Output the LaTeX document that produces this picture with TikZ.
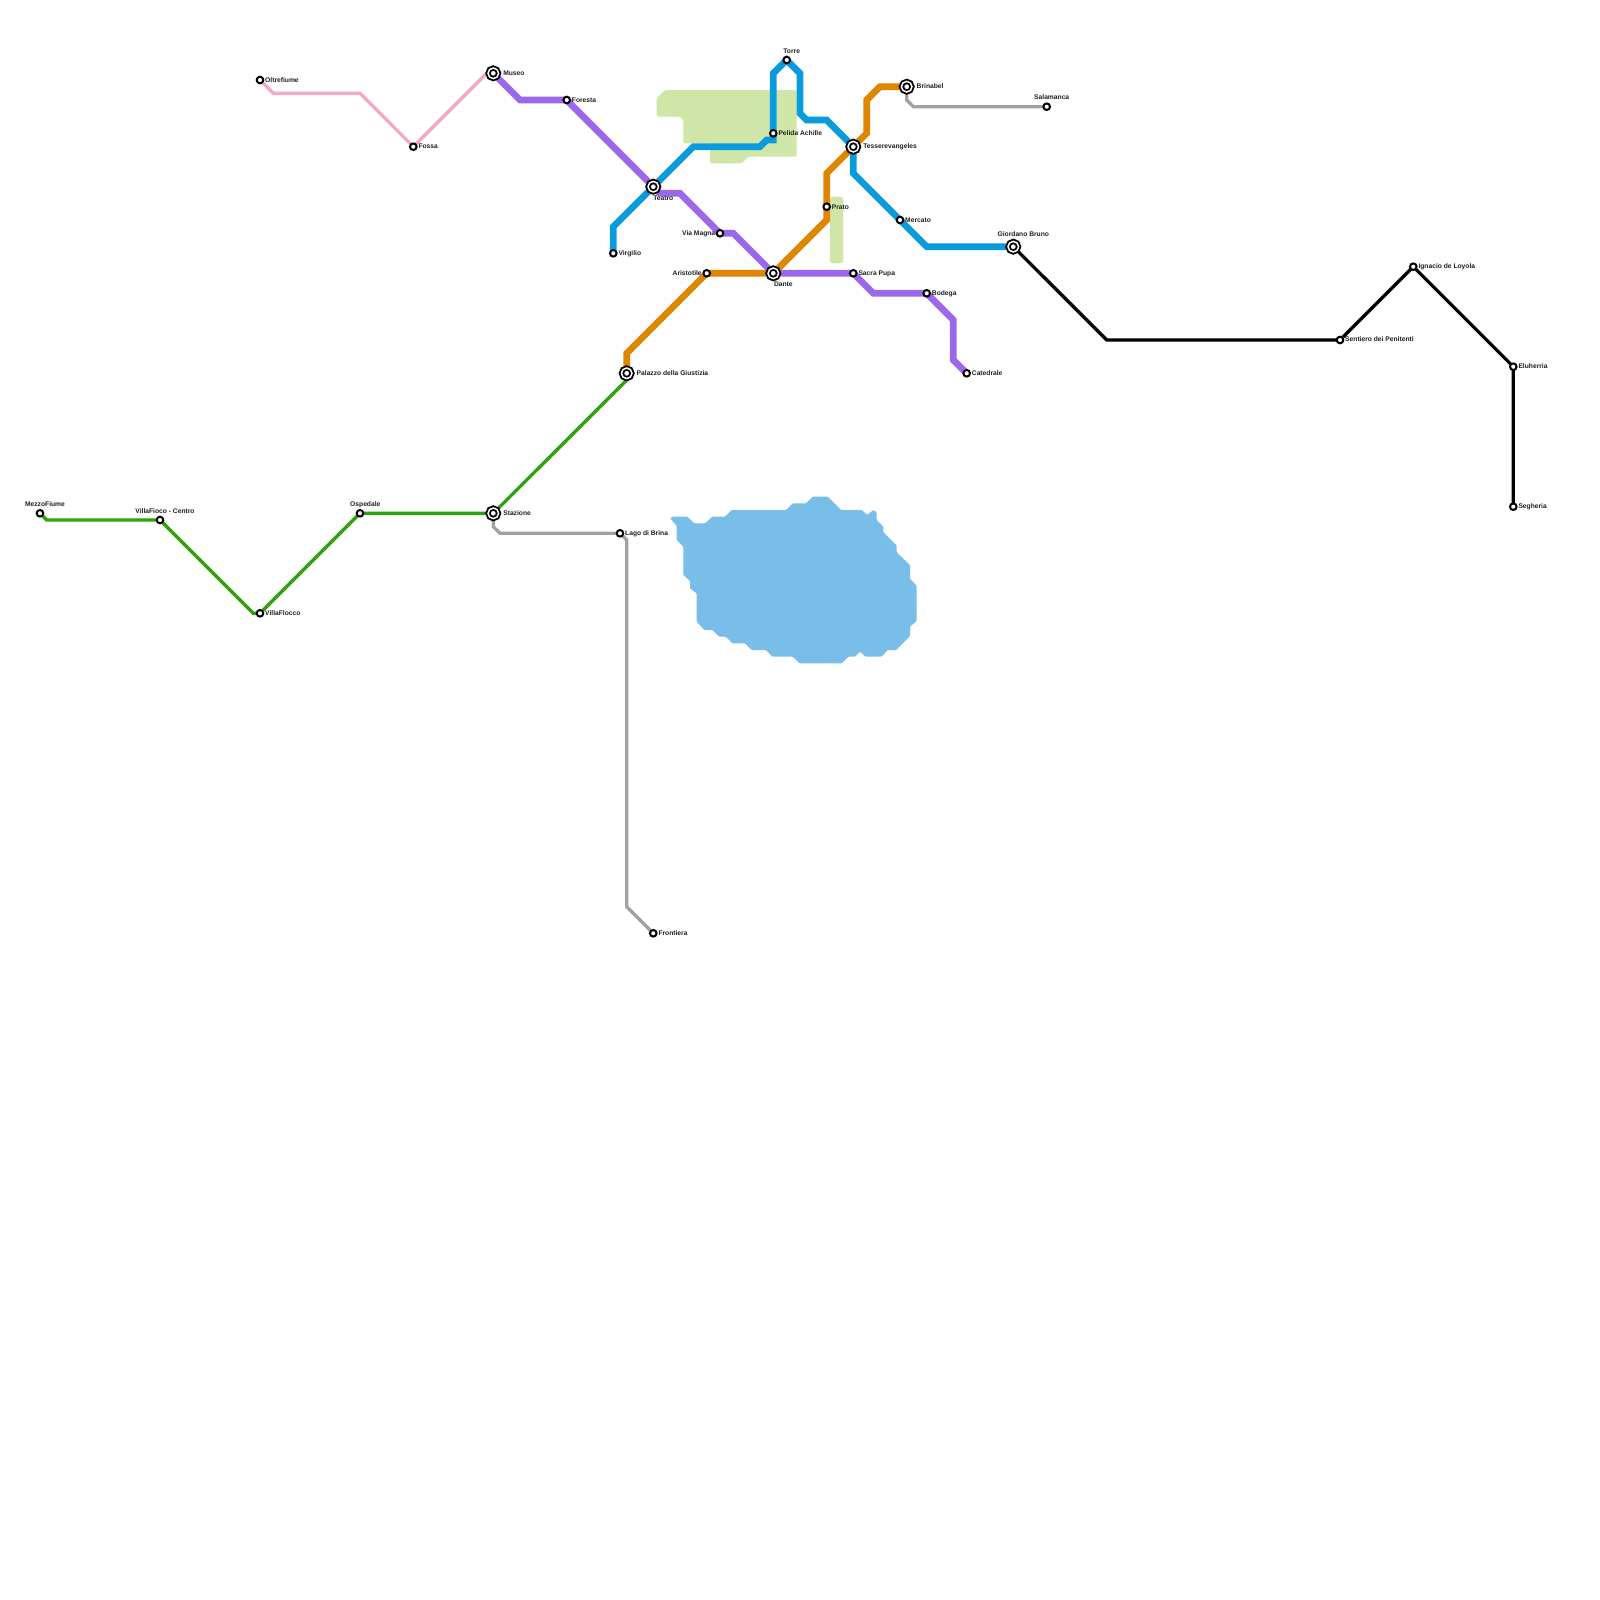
\documentclass[tikz,border=0pt]{standalone}
\usepackage{fontspec}
\setmainfont{Liberation Sans}
\usetikzlibrary{backgrounds}
\definecolor{areagreen}{HTML}{D0E6A8}
\definecolor{lake}{HTML}{79BDE9}
\definecolor{lblue}{HTML}{0A9BDC}
\definecolor{lorange}{HTML}{DF8600}
\definecolor{lpurple}{HTML}{9B68EC}
\definecolor{lgreen}{HTML}{2CA30A}
\definecolor{lpink}{HTML}{F7A6C8}
\definecolor{lgrey}{HTML}{A2A2A2}
\tikzset{
  stn/.style={circle,draw=black,fill=white,line width=2pt,inner sep=0pt,outer sep=0pt,minimum size=6.6pt},
  hub/.style={circle,draw=black,fill=white,line width=1.85pt,double=white,double distance=1.5pt,inner sep=0pt,outer sep=0pt,minimum size=10.6pt},
  lbl/.style={inner sep=0pt,outer sep=0pt,font=\fontsize{6.7pt}{8pt}\selectfont\bfseries,text=black!88},
  lr/.style={lbl,anchor=base west},
  ll/.style={lbl,anchor=base east},
  lc/.style={lbl,anchor=base},
  thick line/.style={line width=6.67pt,line join=miter,miter limit=10},
  thin line/.style={line width=3.33pt,line join=miter,miter limit=10},
  park/.style={fill=areagreen,rounded corners=1.5pt},
  water/.style={fill=lake,rounded corners=1pt}
}
\begin{document}
\begin{tikzpicture}[x=1pt,y=-1pt]
\useasboundingbox (0,0) rectangle (1600,1600);
% stations
\node[stn] (mezzo) at (40,513.3) {};
\node[stn] (centro) at (160,520) {};
\node[stn] (flocco) at (260,613.3) {};
\node[stn] (ospedale) at (360,513.3) {};
\node[hub] (stazione) at (493.3,513.3) {};
\node[hub] (palazzo) at (626.7,373.3) {};
\node[stn] (lago) at (620,533.3) {};
\node[stn] (frontiera) at (653.3,933.3) {};
\node[stn] (oltre) at (260,80) {};
\node[stn] (fossa) at (413.3,146.7) {};
\node[hub] (museo) at (493.3,73.3) {};
\node[stn] (foresta) at (566.7,100) {};
\node[hub] (teatro) at (653.3,186.7) {};
\node[stn] (magna) at (720,233.3) {};
\node[hub] (dante) at (773.3,273.3) {};
\node[stn] (sacra) at (853.3,273.3) {};
\node[stn] (bodega) at (926.7,293.3) {};
\node[stn] (catedrale) at (966.7,373.3) {};
\node[stn] (virgilio) at (613.3,253.3) {};
\node[stn] (pelida) at (773.3,133.3) {};
\node[stn] (torre) at (786.7,60) {};
\node[hub] (tesser) at (853.3,146.7) {};
\node[stn] (mercato) at (900,220) {};
\node[hub] (giordano) at (1013.3,246.7) {};
\node[stn] (aristotile) at (706.7,273.3) {};
\node[stn] (prato) at (826.7,206.7) {};
\node[hub] (brinabel) at (906.7,86.7) {};
\node[stn] (salamanca) at (1046.7,106.7) {};
\node[stn] (sentiero) at (1340,340) {};
\node[stn] (ignacio) at (1413.3,266.7) {};
\node[stn] (eluherria) at (1513.3,366.7) {};
\node[stn] (segheria) at (1513.3,506.7) {};
% labels
\node[lc] (tmezzo) at (45,506.6) {MezzoFiume};
\node[lc] (tcentro) at (165,513.3) {VillaFioco - Centro};
\node[lr] (tflocco) at (265.2,615.6) {VillaFlocco};
\node[lc] (tospedale) at (365.3,506.6) {Ospedale};
\node[lr] (tstazione) at (503.3,515.6) {Stazione};
\node[lr] (tpalazzo) at (636.7,375.6) {Palazzo della Giustizia};
\node[lr] (tlago) at (625.2,535.6) {Lago di Brina};
\node[lr] (tfrontiera) at (658.5,935.6) {Frontiera};
\node[lr] (toltre) at (265.2,82.3) {Oltrefiume};
\node[lr] (tfossa) at (418.5,149) {Fossa};
\node[lr] (tmuseo) at (503.3,75.6) {Museo};
\node[lr] (tforesta) at (571.9,102.3) {Foresta};
\node[lc] (tteatro) at (663.3,200) {Teatro};
\node[ll] (tmagna) at (715.2,235.6) {Via Magna};
\node[lc] (tdante) at (783.3,286.6) {Dante};
\node[lr] (tsacra) at (858.5,275.6) {Sacra Pupa};
\node[lr] (tbodega) at (931.9,295.6) {Bodega};
\node[lr] (tcatedrale) at (971.9,375.6) {Catedrale};
\node[lr] (tvirgilio) at (618.5,255.6) {Virgilio};
\node[lr] (tpelida) at (778.5,135.6) {Pelida Achille};
\node[lc] (ttorre) at (791.7,53.3) {Torre};
\node[lr] (ttesser) at (863.3,149) {Tesserevangeles};
\node[lr] (tmercato) at (905.2,222.3) {Mercato};
\node[lc] (tgiordano) at (1023.3,236.6) {Giordano Bruno};
\node[ll] (taristotile) at (701.7,275.6) {Aristotile};
\node[lr] (tprato) at (831.9,209) {Prato};
\node[lr] (tbrinabel) at (916.7,89) {Brinabel};
\node[lc] (tsalamanca) at (1051.7,100) {Salamanca};
\node[lr] (tsentiero) at (1345.2,341.9) {Sentiero dei Penitenti};
\node[lr] (tignacio) at (1418.5,268.3) {Ignacio de Loyola};
\node[lr] (teluherria) at (1518.5,368.3) {Eluherria};
\node[lr] (tsegheria) at (1518.5,508.3) {Segheria};
\begin{scope}[on background layer]
\fill[white] (0,0) rectangle (1600,1600);
% areas
\path[park] (665,90) -- (656.7,98.3) -- (656.7,116.7) -- (680,116.7) -- (683.3,120) -- (683.3,143.3) -- (710,143.3) -- (710,163.3) -- (741.7,163.3) -- (748.3,156.7) -- (796.7,156.7) -- (796.7,90) -- cycle;
\path[park,rounded corners=3pt] (830,196.7) rectangle (843.3,263.3);
\begin{scope}[shift={(660,480)},x=0.33333pt,y=-0.33333pt]
\path[water] (30,115) -- (38,110) -- (82,110) -- (103,130) -- (135,130) -- (157,110) -- (195,110) -- (215,90) -- (378,90) -- (398,70) -- (438,70) -- (458,50) -- (503,50) -- (543,90) -- (605,90) -- (622,105) -- (640,90) -- (650,97) -- (650,120) -- (670,140) -- (670,157) -- (710,197) -- (710,217) -- (750,255) -- (750,297) -- (770,317) -- (770,423) -- (750,440) -- (750,468) -- (708,510) -- (683,510) -- (665,530) -- (617,530) -- (600,515) -- (585,530) -- (565,530) -- (545,550) -- (418,550) -- (398,530) -- (337,530) -- (318,510) -- (275,510) -- (255,490) -- (217,490) -- (197,470) -- (177,470) -- (157,450) -- (133,450) -- (110,425) -- (110,340) -- (90,325) -- (90,303) -- (70,285) -- (70,200) -- (50,180) -- (50,137) -- cycle;
\end{scope}
% thin lines
\draw[thin line,lgrey] (stazione.center) -- (493.3,526.7) -- (500,533.3) -- (lago.center) -- (626.7,540) -- (626.7,906.7) -- (frontiera.center);
\draw[thin line,lgrey] (brinabel.center) -- (906.7,100) -- (913.3,106.7) -- (salamanca.center);
\draw[thin line,lpink] (oltre.center) -- (273.3,93.3) -- (360,93.3) -- (fossa.center) -- (486.7,73.3) -- (museo.center);
\draw[thin line,lgreen] (mezzo.center) -- (46.7,520) -- (centro.center) -- (253.3,613.3) -- (flocco.center) -- (ospedale.center) -- (stazione.center) -- (626.7,380) -- (palazzo.center);
\draw[thin line,black] (giordano.center) -- (1106.7,340) -- (sentiero.center) -- (ignacio.center) -- (eluherria.center) -- (segheria.center);
% thick lines
\draw[thick line,lpurple] (museo.center) -- (520,100) -- (foresta.center) -- (teatro.center) -- (660,193.3) -- (680,193.3) -- (magna.center) -- (733.3,233.3) -- (dante.center) -- (sacra.center) -- (873.3,293.3) -- (bodega.center) -- (953.3,320) -- (953.3,360) -- (catedrale.center);
\draw[thick line,lblue] (virgilio.center) -- (613.3,226.7) -- (teatro.center) -- (693.3,146.7) -- (760,146.7) -- (766.7,140) -- (773.3,140) -- (pelida.center) -- (773.3,73.3) -- (torre.center) -- (800,73.3) -- (800,113.3) -- (806.7,120) -- (826.7,120) -- (tesser.center) -- (853.3,173.3) -- (mercato.center) -- (926.7,246.7) -- (giordano.center);
\draw[thick line,lorange] (palazzo.center) -- (626.7,353.3) -- (aristotile.center) -- (dante.center) -- (826.7,220) -- (prato.center) -- (826.7,173.3) -- (tesser.center) -- (866.7,133.3) -- (866.7,100) -- (880,86.7) -- (brinabel.center);
\end{scope}
\end{tikzpicture}
\end{document}
